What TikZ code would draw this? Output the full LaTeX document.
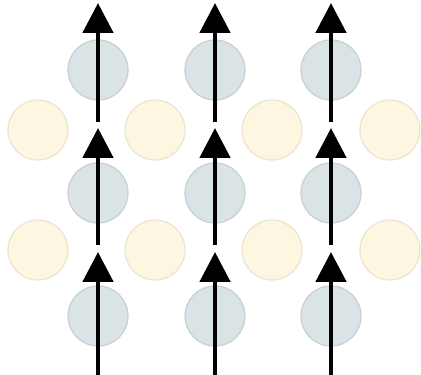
\documentclass[tikz,border=0pt]{standalone}
\usetikzlibrary{arrows.meta}
\definecolor{bluefill}{RGB}{218,228,231}
\definecolor{blueline}{RGB}{200,208,212}
\definecolor{yellowfill}{RGB}{253,247,226}
\definecolor{yellowline}{RGB}{236,228,210}
\begin{document}
\begin{tikzpicture}[
	bluev/.style={ circle, draw=blueline, fill=bluefill, line width=0.7pt, inner sep=0pt, minimum size=1.2cm },
	yellowv/.style={ circle, draw=yellowline, fill=yellowfill, line width=0.7pt, inner sep=0pt, minimum size=1.2cm },
	upshift/.style={ line width=2.8pt, -{Triangle[length=0.6cm,width=0.6cm]} }
]
\useasboundingbox (0,0) rectangle (8.42,7.5);

% blue sites sit in three columns, yellow ones fill the gaps between them

\node at (1.96,6.1) (b13) [bluev] {};
\node at (4.3,6.1) (b23) [bluev] {};
\node at (6.62,6.1) (b33) [bluev] {};
\node at (1.96,3.64) (b12) [bluev] {};
\node at (4.3,3.64) (b22) [bluev] {};
\node at (6.62,3.64) (b32) [bluev] {};
\node at (1.96,1.18) (b11) [bluev] {};
\node at (4.3,1.18) (b21) [bluev] {};
\node at (6.62,1.18) (b31) [bluev] {};

\node at (0.76,4.9) (y12) [yellowv] {};
\node at (3.1,4.9) (y22) [yellowv] {};
\node at (5.44,4.9) (y32) [yellowv] {};
\node at (7.8,4.9) (y42) [yellowv] {};
\node at (0.76,2.5) (y11) [yellowv] {};
\node at (3.1,2.5) (y21) [yellowv] {};
\node at (5.44,2.5) (y31) [yellowv] {};
\node at (7.8,2.5) (y41) [yellowv] {};

% tails and tips of the arrows
\coordinate (t10) at (1.96,0);
\coordinate (h11) at (1.96,2.46);
\coordinate (t11) at (1.96,2.6);
\coordinate (h12) at (1.96,4.94);
\coordinate (t12) at (1.96,5.06);
\coordinate (h13) at (1.96,7.44);
\coordinate (t20) at (4.3,0);
\coordinate (h21) at (4.3,2.46);
\coordinate (t21) at (4.3,2.6);
\coordinate (h22) at (4.3,4.94);
\coordinate (t22) at (4.3,5.06);
\coordinate (h23) at (4.3,7.44);
\coordinate (t30) at (6.62,0);
\coordinate (h31) at (6.62,2.46);
\coordinate (t31) at (6.62,2.6);
\coordinate (h32) at (6.62,4.94);
\coordinate (t32) at (6.62,5.06);
\coordinate (h33) at (6.62,7.44);

\draw[upshift] (t10) to (h11);
\draw[upshift] (t11) to (h12);
\draw[upshift] (t12) to (h13);
\draw[upshift] (t20) to (h21);
\draw[upshift] (t21) to (h22);
\draw[upshift] (t22) to (h23);
\draw[upshift] (t30) to (h31);
\draw[upshift] (t31) to (h32);
\draw[upshift] (t32) to (h33);

\end{tikzpicture}
\end{document}
